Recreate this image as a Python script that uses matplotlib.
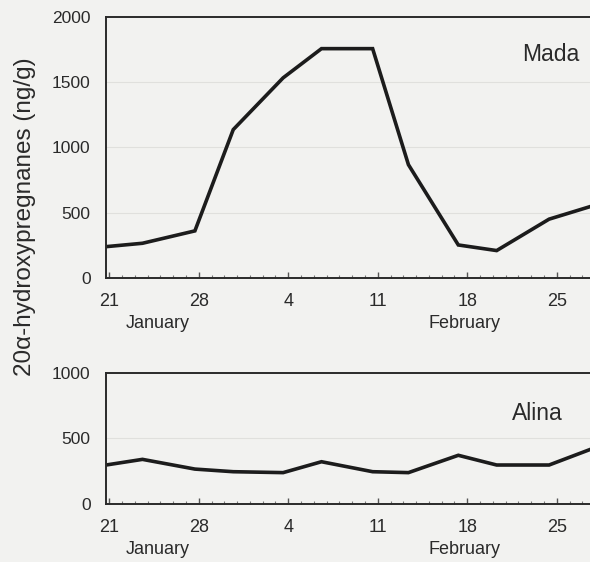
import matplotlib.pyplot as plt
from matplotlib.ticker import MultipleLocator, FixedLocator

# days since 21 January
days = [-0.25, 2.6, 6.7, 9.7, 13.6, 16.6, 20.6, 23.4, 27.3, 30.3, 34.4, 37.6]
mada = [238, 264, 359, 1136, 1533, 1757, 1757, 867, 251, 208, 449, 545]
alina = [297, 340, 266, 246, 239, 322, 246, 239, 371, 297, 297, 415]

tick_days = [0, 7, 14, 21, 28, 35]
tick_labels = ['21', '28', '4', '11', '18', '25']
months = ['January', 'February']
month_days = [3.8, 27.8]

bg = '#f2f2f0'
ink = '#1c1c1c'
plt.rcParams['font.family'] = ['Liberation Sans', 'DejaVu Sans']

fig = plt.figure(figsize=(5.9, 5.62), dpi=100, facecolor=bg)
ax1 = fig.add_axes([0.1797, 0.5059, 0.8203, 0.4639])
ax2 = fig.add_axes([0.1797, 0.1032, 0.8203, 0.2336])


def style(ax, ymax, name, name_xy):
    ax.set_facecolor(bg)
    ax.set_xlim(-0.25, 37.6)
    ax.set_ylim(0, ymax)
    ax.yaxis.set_major_locator(FixedLocator(list(range(0, ymax + 1, 500))))
    ax.xaxis.set_major_locator(FixedLocator(tick_days))
    ax.set_xticklabels(tick_labels)
    ax.xaxis.set_minor_locator(MultipleLocator(1))
    ax.tick_params(axis='y', length=0, pad=11, labelsize=12.5, labelcolor='#2a2a2a')
    ax.tick_params(axis='x', which='major', direction='in', length=4, width=1,
                   pad=11, labelsize=13, labelcolor='#2a2a2a', color='#555555')
    ax.tick_params(axis='x', which='minor', direction='in', length=2.5, width=0.8,
                   color='#777777')
    for s in ['left', 'bottom', 'top']:
        ax.spines[s].set_color('#2a2a2a')
        ax.spines[s].set_linewidth(1.4)
    ax.spines['right'].set_visible(False)
    for v in range(500, ymax, 500):
        ax.axhline(v, color='#e0e0dd', lw=0.8, zorder=0)
    ax.text(name_xy[0], name_xy[1], name, fontsize=16.5, color='#2a2a2a',
            ha='center', va='center')
    for m, d in zip(months, month_days):
        ax.annotate(m, xy=(d, 0), xycoords=('data', 'axes fraction'),
                    xytext=(0, -33), textcoords='offset points',
                    ha='center', va='center', fontsize=13, color='#2a2a2a')


ax1.plot(days, mada, color=ink, lw=2.6, solid_joinstyle='miter', clip_on=True)
style(ax1, 2000, 'Mada', (34.5, 1713))

ax2.plot(days, alina, color=ink, lw=2.6, solid_joinstyle='miter', clip_on=True)
style(ax2, 1000, 'Alina', (33.5, 693))

fig.text(0.042, 0.614, '20\u03b1-hydroxypregnanes (ng/g)', rotation=90,
         ha='center', va='center', fontsize=17.5, color='#2a2a2a')

plt.savefig('out.png', dpi=100, facecolor=bg)
